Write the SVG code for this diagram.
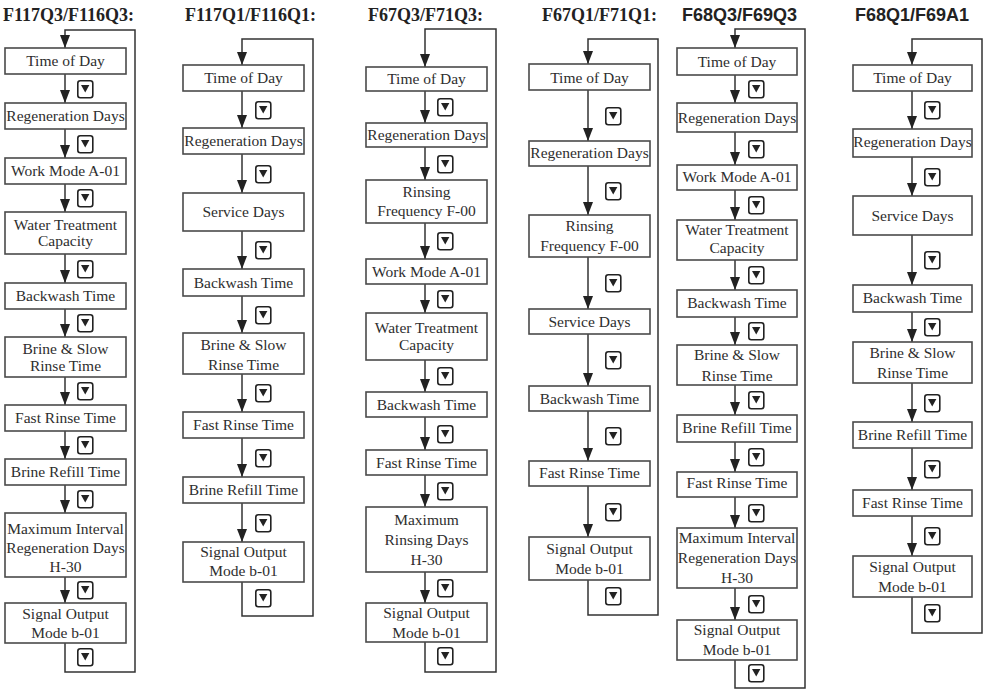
<svg xmlns="http://www.w3.org/2000/svg" xmlns:xlink="http://www.w3.org/1999/xlink" width="985" height="689" viewBox="0 0 985 689">
<style>
.bx{fill:#fff;stroke:#4a4a4a;stroke-width:1.6}
.t{font-family:"Liberation Serif","Times New Roman",serif;font-size:15.5px;fill:#2e2e2e;text-anchor:middle}
.ts{font-family:"Liberation Serif","Times New Roman",serif;font-size:18px;font-weight:bold;fill:#222}
.tsa{font-family:"Liberation Sans",Arial,sans-serif;font-size:18px;font-weight:bold;fill:#222}
.c{fill:none;stroke:#333;stroke-width:1.5}
</style>
<defs>
<marker id="ah" viewBox="0 0 13 10" refX="13" refY="5" markerWidth="13" markerHeight="10" markerUnits="userSpaceOnUse" orient="auto">
<path d="M0,0 L13,5 L0,10 Z" fill="#222"/>
</marker>
<g id="btn">
<rect x="0.8" y="0.8" width="15" height="17" rx="2.5" fill="#fff" stroke="#222" stroke-width="1.6"/>
<path d="M4,5 L12.4,5 L8.2,12.5 Z" fill="#222"/>
</g>
</defs>
<rect width="985" height="689" fill="#fff"/>

<g id="titles">
<text class="ts" x="3" y="21">F117Q3/F116Q3:</text>
<text class="ts" x="185" y="21">F117Q1/F116Q1:</text>
<text class="ts" x="368" y="21">F67Q3/F71Q3:</text>
<text class="ts" x="542" y="21">F67Q1/F71Q1:</text>
<text class="tsa" x="682" y="21">F68Q3/F69Q3</text>
<text class="tsa" x="855" y="21">F68Q1/F69A1</text>
</g>

<g id="connectors">
<line class="c" x1="65" y1="74" x2="65" y2="103" marker-end="url(#ah)"/>
<line class="c" x1="65" y1="129" x2="65" y2="158" marker-end="url(#ah)"/>
<line class="c" x1="65" y1="184" x2="65" y2="212" marker-end="url(#ah)"/>
<line class="c" x1="65" y1="254" x2="65" y2="283" marker-end="url(#ah)"/>
<line class="c" x1="65" y1="309" x2="65" y2="337" marker-end="url(#ah)"/>
<line class="c" x1="65" y1="377" x2="65" y2="405" marker-end="url(#ah)"/>
<line class="c" x1="65" y1="431" x2="65" y2="459" marker-end="url(#ah)"/>
<line class="c" x1="65" y1="485" x2="65" y2="513" marker-end="url(#ah)"/>
<line class="c" x1="65" y1="577" x2="65" y2="603" marker-end="url(#ah)"/>
<path class="c" d="M65,643 V672 H135 V30 H65 V48" marker-end="url(#ah)"/>
<line class="c" x1="242" y1="91" x2="242" y2="128" marker-end="url(#ah)"/>
<line class="c" x1="242" y1="154" x2="242" y2="193" marker-end="url(#ah)"/>
<line class="c" x1="242" y1="231" x2="242" y2="269" marker-end="url(#ah)"/>
<line class="c" x1="242" y1="296" x2="242" y2="333" marker-end="url(#ah)"/>
<line class="c" x1="242" y1="374" x2="242" y2="412" marker-end="url(#ah)"/>
<line class="c" x1="242" y1="438" x2="242" y2="477" marker-end="url(#ah)"/>
<line class="c" x1="242" y1="503" x2="242" y2="542" marker-end="url(#ah)"/>
<path class="c" d="M242,582 V616 H313 V39 H242 V65" marker-end="url(#ah)"/>
<line class="c" x1="425" y1="91" x2="425" y2="123" marker-end="url(#ah)"/>
<line class="c" x1="425" y1="147" x2="425" y2="180" marker-end="url(#ah)"/>
<line class="c" x1="425" y1="223" x2="425" y2="259" marker-end="url(#ah)"/>
<line class="c" x1="425" y1="284" x2="425" y2="313" marker-end="url(#ah)"/>
<line class="c" x1="425" y1="360" x2="425" y2="392" marker-end="url(#ah)"/>
<line class="c" x1="425" y1="417" x2="425" y2="450" marker-end="url(#ah)"/>
<line class="c" x1="425" y1="475" x2="425" y2="507" marker-end="url(#ah)"/>
<line class="c" x1="425" y1="572" x2="425" y2="603" marker-end="url(#ah)"/>
<path class="c" d="M425,642 V672 H496 V29 H425 V67" marker-end="url(#ah)"/>
<line class="c" x1="588" y1="90" x2="588" y2="141" marker-end="url(#ah)"/>
<line class="c" x1="588" y1="166" x2="588" y2="215" marker-end="url(#ah)"/>
<line class="c" x1="588" y1="257" x2="588" y2="309" marker-end="url(#ah)"/>
<line class="c" x1="588" y1="334" x2="588" y2="386" marker-end="url(#ah)"/>
<line class="c" x1="588" y1="411" x2="588" y2="461" marker-end="url(#ah)"/>
<line class="c" x1="588" y1="486" x2="588" y2="537" marker-end="url(#ah)"/>
<path class="c" d="M588,580 V615 H658 V39 H588 V64" marker-end="url(#ah)"/>
<line class="c" x1="735" y1="75" x2="735" y2="103" marker-end="url(#ah)"/>
<line class="c" x1="735" y1="132" x2="735" y2="165" marker-end="url(#ah)"/>
<line class="c" x1="735" y1="190" x2="735" y2="220" marker-end="url(#ah)"/>
<line class="c" x1="735" y1="260" x2="735" y2="290" marker-end="url(#ah)"/>
<line class="c" x1="735" y1="317" x2="735" y2="345" marker-end="url(#ah)"/>
<line class="c" x1="735" y1="385" x2="735" y2="415" marker-end="url(#ah)"/>
<line class="c" x1="735" y1="442" x2="735" y2="472" marker-end="url(#ah)"/>
<line class="c" x1="735" y1="497" x2="735" y2="528" marker-end="url(#ah)"/>
<line class="c" x1="735" y1="588" x2="735" y2="620" marker-end="url(#ah)"/>
<path class="c" d="M735,660 V688 H805 V29 H735 V48" marker-end="url(#ah)"/>
<line class="c" x1="912" y1="91" x2="912" y2="129" marker-end="url(#ah)"/>
<line class="c" x1="912" y1="157" x2="912" y2="196" marker-end="url(#ah)"/>
<line class="c" x1="912" y1="235" x2="912" y2="285" marker-end="url(#ah)"/>
<line class="c" x1="912" y1="312" x2="912" y2="342" marker-end="url(#ah)"/>
<line class="c" x1="912" y1="383" x2="912" y2="422" marker-end="url(#ah)"/>
<line class="c" x1="912" y1="448" x2="912" y2="490" marker-end="url(#ah)"/>
<line class="c" x1="912" y1="516" x2="912" y2="556" marker-end="url(#ah)"/>
<path class="c" d="M912,597 V633 H982 V39 H912 V65" marker-end="url(#ah)"/>
</g>

<g id="buttons">
<use xlink:href="#btn" x="77" y="80"/><use xlink:href="#btn" x="77" y="135"/><use xlink:href="#btn" x="77" y="189"/><use xlink:href="#btn" x="77" y="260"/><use xlink:href="#btn" x="77" y="314"/><use xlink:href="#btn" x="77" y="382"/><use xlink:href="#btn" x="77" y="436"/><use xlink:href="#btn" x="77" y="490"/><use xlink:href="#btn" x="77" y="581"/><use xlink:href="#btn" x="77" y="648"/>
<use xlink:href="#btn" x="255" y="101"/><use xlink:href="#btn" x="255" y="165"/><use xlink:href="#btn" x="255" y="241"/><use xlink:href="#btn" x="255" y="306"/><use xlink:href="#btn" x="255" y="384"/><use xlink:href="#btn" x="255" y="449"/><use xlink:href="#btn" x="255" y="514"/><use xlink:href="#btn" x="255" y="589"/>
<use xlink:href="#btn" x="437" y="98"/><use xlink:href="#btn" x="437" y="155"/><use xlink:href="#btn" x="437" y="232"/><use xlink:href="#btn" x="437" y="290"/><use xlink:href="#btn" x="437" y="367"/><use xlink:href="#btn" x="437" y="425"/><use xlink:href="#btn" x="437" y="482"/><use xlink:href="#btn" x="437" y="579"/><use xlink:href="#btn" x="437" y="647"/>
<use xlink:href="#btn" x="605" y="107"/><use xlink:href="#btn" x="605" y="182"/><use xlink:href="#btn" x="605" y="274"/><use xlink:href="#btn" x="605" y="351"/><use xlink:href="#btn" x="605" y="427"/><use xlink:href="#btn" x="605" y="503"/><use xlink:href="#btn" x="605" y="587"/>
<use xlink:href="#btn" x="748" y="80"/><use xlink:href="#btn" x="748" y="140"/><use xlink:href="#btn" x="748" y="196"/><use xlink:href="#btn" x="748" y="266"/><use xlink:href="#btn" x="748" y="322"/><use xlink:href="#btn" x="748" y="391"/><use xlink:href="#btn" x="748" y="448"/><use xlink:href="#btn" x="748" y="504"/><use xlink:href="#btn" x="748" y="595"/><use xlink:href="#btn" x="748" y="664"/>
<use xlink:href="#btn" x="924" y="101"/><use xlink:href="#btn" x="924" y="168"/><use xlink:href="#btn" x="924" y="251"/><use xlink:href="#btn" x="924" y="318"/><use xlink:href="#btn" x="924" y="394"/><use xlink:href="#btn" x="924" y="460"/><use xlink:href="#btn" x="924" y="527"/><use xlink:href="#btn" x="924" y="604"/>
</g>

<g id="c1n1"><rect class="bx" x="5" y="48" width="121" height="26"/><text class="t" x="65.5" y="66">Time of Day</text></g>
<g id="c1n2"><rect class="bx" x="5" y="103" width="121" height="26"/><text class="t" x="65.5" y="121">Regeneration Days</text></g>
<g id="c1n3"><rect class="bx" x="5" y="158" width="121" height="26"/><text class="t" x="65.5" y="176">Work Mode A-01</text></g>
<g id="c1n4"><rect class="bx" x="5" y="212" width="121" height="42"/><text class="t" x="65.5" y="230">Water Treatment</text><text class="t" x="65.5" y="246">Capacity</text></g>
<g id="c1n5"><rect class="bx" x="5" y="283" width="121" height="26"/><text class="t" x="65.5" y="301">Backwash Time</text></g>
<g id="c1n6"><rect class="bx" x="5" y="337" width="121" height="40"/><text class="t" x="65.5" y="354">Brine &amp; Slow</text><text class="t" x="65.5" y="371">Rinse Time</text></g>
<g id="c1n7"><rect class="bx" x="5" y="405" width="121" height="26"/><text class="t" x="65.5" y="423">Fast Rinse Time</text></g>
<g id="c1n8"><rect class="bx" x="5" y="459" width="121" height="26"/><text class="t" x="65.5" y="477">Brine Refill Time</text></g>
<g id="c1n9"><rect class="bx" x="5" y="513" width="121" height="64"/><text class="t" x="65.5" y="534">Maximum Interval</text><text class="t" x="65.5" y="553">Regeneration Days</text><text class="t" x="65.5" y="572">H-30</text></g>
<g id="c1n10"><rect class="bx" x="5" y="603" width="121" height="40"/><text class="t" x="65.5" y="619">Signal Output</text><text class="t" x="65.5" y="638">Mode b-01</text></g>

<g id="c2n1"><rect class="bx" x="183" y="65" width="121" height="26"/><text class="t" x="243.5" y="83">Time of Day</text></g>
<g id="c2n2"><rect class="bx" x="183" y="128" width="121" height="26"/><text class="t" x="243.5" y="146">Regeneration Days</text></g>
<g id="c2n3"><rect class="bx" x="183" y="193" width="121" height="38"/><text class="t" x="243.5" y="217">Service Days</text></g>
<g id="c2n4"><rect class="bx" x="183" y="269" width="121" height="27"/><text class="t" x="243.5" y="288">Backwash Time</text></g>
<g id="c2n5"><rect class="bx" x="183" y="333" width="121" height="41"/><text class="t" x="243.5" y="350">Brine &amp; Slow</text><text class="t" x="243.5" y="370">Rinse Time</text></g>
<g id="c2n6"><rect class="bx" x="183" y="412" width="121" height="26"/><text class="t" x="243.5" y="430">Fast Rinse Time</text></g>
<g id="c2n7"><rect class="bx" x="183" y="477" width="121" height="26"/><text class="t" x="243.5" y="495">Brine Refill Time</text></g>
<g id="c2n8"><rect class="bx" x="183" y="542" width="121" height="40"/><text class="t" x="243.5" y="557">Signal Output</text><text class="t" x="243.5" y="576">Mode b-01</text></g>

<g id="c3n1"><rect class="bx" x="366" y="67" width="121" height="24"/><text class="t" x="426.5" y="84">Time of Day</text></g>
<g id="c3n2"><rect class="bx" x="366" y="123" width="121" height="24"/><text class="t" x="426.5" y="140">Regeneration Days</text></g>
<g id="c3n3"><rect class="bx" x="366" y="180" width="121" height="43"/><text class="t" x="426.5" y="197">Rinsing</text><text class="t" x="426.5" y="216">Frequency F-00</text></g>
<g id="c3n4"><rect class="bx" x="366" y="259" width="121" height="25"/><text class="t" x="426.5" y="277">Work Mode A-01</text></g>
<g id="c3n5"><rect class="bx" x="366" y="313" width="121" height="47"/><text class="t" x="426.5" y="333">Water Treatment</text><text class="t" x="426.5" y="350">Capacity</text></g>
<g id="c3n6"><rect class="bx" x="366" y="392" width="121" height="25"/><text class="t" x="426.5" y="410">Backwash Time</text></g>
<g id="c3n7"><rect class="bx" x="366" y="450" width="121" height="25"/><text class="t" x="426.5" y="468">Fast Rinse Time</text></g>
<g id="c3n8"><rect class="bx" x="366" y="507" width="121" height="65"/><text class="t" x="426.5" y="525">Maximum</text><text class="t" x="426.5" y="545">Rinsing Days</text><text class="t" x="426.5" y="565">H-30</text></g>
<g id="c3n9"><rect class="bx" x="366" y="603" width="121" height="39"/><text class="t" x="426.5" y="618">Signal Output</text><text class="t" x="426.5" y="638">Mode b-01</text></g>

<g id="c4n1"><rect class="bx" x="529" y="64" width="121" height="26"/><text class="t" x="589.5" y="83">Time of Day</text></g>
<g id="c4n2"><rect class="bx" x="529" y="141" width="121" height="25"/><text class="t" x="589.5" y="158">Regeneration Days</text></g>
<g id="c4n3"><rect class="bx" x="529" y="215" width="121" height="42"/><text class="t" x="589.5" y="231">Rinsing</text><text class="t" x="589.5" y="251">Frequency F-00</text></g>
<g id="c4n4"><rect class="bx" x="529" y="309" width="121" height="25"/><text class="t" x="589.5" y="327">Service Days</text></g>
<g id="c4n5"><rect class="bx" x="529" y="386" width="121" height="25"/><text class="t" x="589.5" y="404">Backwash Time</text></g>
<g id="c4n6"><rect class="bx" x="529" y="461" width="121" height="25"/><text class="t" x="589.5" y="478">Fast Rinse Time</text></g>
<g id="c4n7"><rect class="bx" x="529" y="537" width="121" height="43"/><text class="t" x="589.5" y="554">Signal Output</text><text class="t" x="589.5" y="574">Mode b-01</text></g>

<g id="c5n1"><rect class="bx" x="677" y="48" width="120" height="27"/><text class="t" x="737" y="67">Time of Day</text></g>
<g id="c5n2"><rect class="bx" x="677" y="103" width="120" height="29"/><text class="t" x="737" y="123">Regeneration Days</text></g>
<g id="c5n3"><rect class="bx" x="677" y="165" width="120" height="25"/><text class="t" x="737" y="182">Work Mode A-01</text></g>
<g id="c5n4"><rect class="bx" x="677" y="220" width="120" height="40"/><text class="t" x="737" y="235">Water Treatment</text><text class="t" x="737" y="253">Capacity</text></g>
<g id="c5n5"><rect class="bx" x="677" y="290" width="120" height="27"/><text class="t" x="737" y="308">Backwash Time</text></g>
<g id="c5n6"><rect class="bx" x="677" y="345" width="120" height="40"/><text class="t" x="737" y="360">Brine &amp; Slow</text><text class="t" x="737" y="381">Rinse Time</text></g>
<g id="c5n7"><rect class="bx" x="677" y="415" width="120" height="27"/><text class="t" x="737" y="433">Brine Refill Time</text></g>
<g id="c5n8"><rect class="bx" x="677" y="472" width="120" height="25"/><text class="t" x="737" y="488">Fast Rinse Time</text></g>
<g id="c5n9"><rect class="bx" x="677" y="528" width="120" height="60"/><text class="t" x="737" y="543">Maximum Interval</text><text class="t" x="737" y="563">Regeneration Days</text><text class="t" x="737" y="583">H-30</text></g>
<g id="c5n10"><rect class="bx" x="677" y="620" width="120" height="40"/><text class="t" x="737" y="635">Signal Output</text><text class="t" x="737" y="655">Mode b-01</text></g>

<g id="c6n1"><rect class="bx" x="853" y="65" width="119" height="26"/><text class="t" x="912.5" y="83">Time of Day</text></g>
<g id="c6n2"><rect class="bx" x="853" y="129" width="119" height="28"/><text class="t" x="912.5" y="147">Regeneration Days</text></g>
<g id="c6n3"><rect class="bx" x="853" y="196" width="119" height="39"/><text class="t" x="912.5" y="221">Service Days</text></g>
<g id="c6n4"><rect class="bx" x="853" y="285" width="119" height="27"/><text class="t" x="912.5" y="303">Backwash Time</text></g>
<g id="c6n5"><rect class="bx" x="853" y="342" width="119" height="41"/><text class="t" x="912.5" y="358">Brine &amp; Slow</text><text class="t" x="912.5" y="378">Rinse Time</text></g>
<g id="c6n6"><rect class="bx" x="853" y="422" width="119" height="26"/><text class="t" x="912.5" y="440">Brine Refill Time</text></g>
<g id="c6n7"><rect class="bx" x="853" y="490" width="119" height="26"/><text class="t" x="912.5" y="508">Fast Rinse Time</text></g>
<g id="c6n8"><rect class="bx" x="853" y="556" width="119" height="41"/><text class="t" x="912.5" y="572">Signal Output</text><text class="t" x="912.5" y="592">Mode b-01</text></g>
</svg>
